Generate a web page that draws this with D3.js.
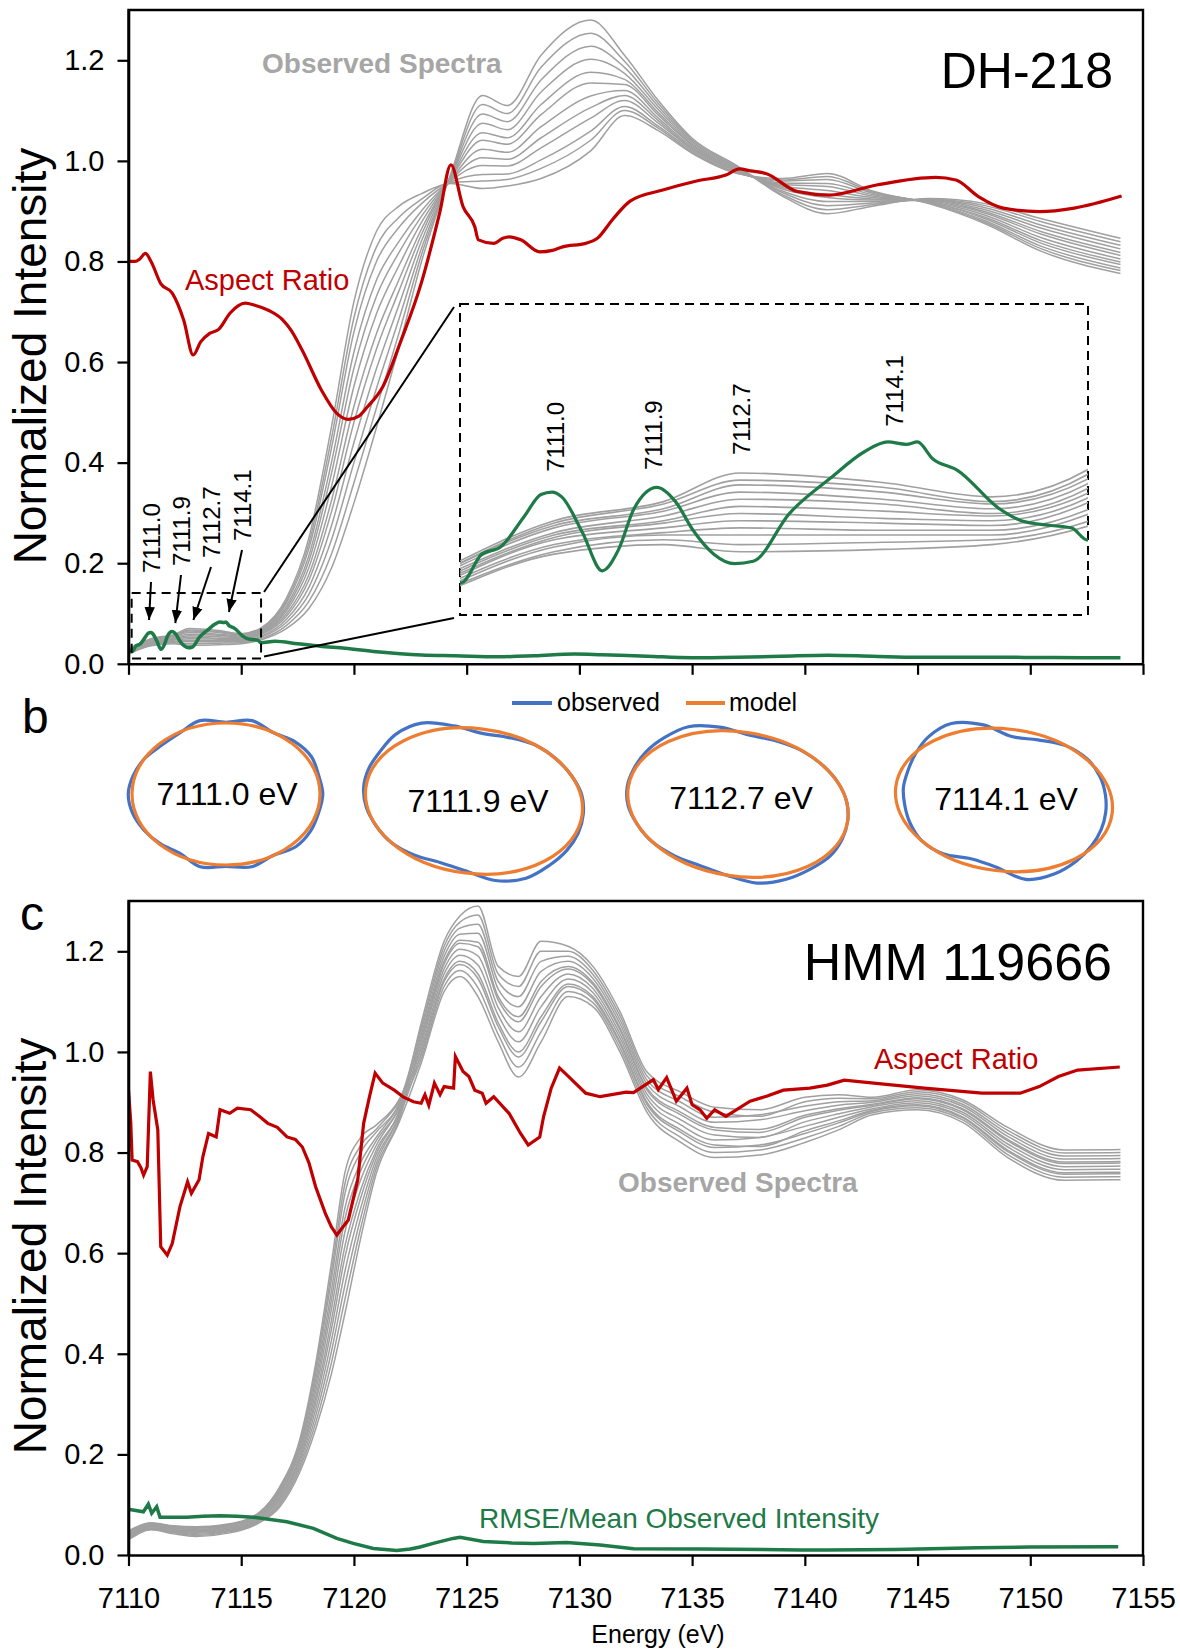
<!DOCTYPE html>
<html>
<head>
<meta charset="utf-8">
<script src="https://cdn.jsdelivr.net/npm/d3@7"></script>
<style>
  body { margin: 0; background: #fff; }
  svg { display: block; font-family: "Liberation Sans", Arial, Helvetica, sans-serif; }
</style>
</head>
<body>
<div id="chart"></div>
<script>
// ---------- data ----------
var tickE = [7110, 7115, 7120, 7125, 7130, 7135, 7140, 7145, 7150, 7155];
var tickV = [0, 0.2, 0.4, 0.6, 0.8, 1.0, 1.2];

// panel a (DH-218): 12 observed spectra, one row per energy
var energyTop = [7110, 7111, 7112, 7112.7, 7114, 7115, 7115.9, 7117, 7118, 7119, 7120, 7121, 7122, 7123, 7124.3,
                 7125.7, 7126.8, 7128.3, 7130.5, 7132, 7133.5, 7135, 7137, 7139, 7141, 7143, 7145.5, 7148, 7150.5, 7154];
var greyTopRows = [
  [0.030,0.029,0.029,0.028,0.027,0.026,0.025,0.024,0.023,0.022,0.021,0.020],
  [0.050,0.049,0.048,0.047,0.045,0.044,0.043,0.042,0.040,0.039,0.037,0.036],
  [0.058,0.057,0.055,0.054,0.052,0.050,0.049,0.047,0.045,0.044,0.042,0.040],
  [0.070,0.067,0.065,0.062,0.059,0.056,0.053,0.050,0.047,0.044,0.040,0.037],
  [0.066,0.064,0.062,0.059,0.057,0.054,0.051,0.049,0.046,0.044,0.041,0.038],
  [0.060,0.058,0.057,0.055,0.053,0.052,0.050,0.048,0.046,0.044,0.042,0.040],
  [0.072,0.070,0.068,0.066,0.064,0.062,0.060,0.058,0.055,0.053,0.050,0.048],
  [0.130,0.125,0.121,0.115,0.110,0.105,0.099,0.094,0.088,0.082,0.076,0.070],
  [0.250,0.239,0.229,0.215,0.204,0.191,0.177,0.166,0.152,0.138,0.124,0.110],
  [0.470,0.448,0.428,0.400,0.378,0.352,0.324,0.302,0.274,0.246,0.218,0.190],
  [0.720,0.688,0.660,0.620,0.588,0.552,0.512,0.480,0.440,0.400,0.360,0.320],
  [0.860,0.829,0.800,0.763,0.731,0.696,0.657,0.626,0.587,0.548,0.509,0.470],
  [0.910,0.888,0.868,0.840,0.818,0.792,0.764,0.742,0.714,0.686,0.658,0.630],
  [0.935,0.924,0.915,0.901,0.890,0.878,0.865,0.854,0.841,0.827,0.814,0.800],
  [0.955,0.957,0.958,0.960,0.962,0.963,0.965,0.967,0.969,0.971,0.973,0.975],
  [0.945,0.960,0.973,0.991,1.006,1.023,1.041,1.056,1.075,1.093,1.112,1.130],
  [0.950,0.963,0.974,0.990,1.003,1.017,1.033,1.046,1.062,1.078,1.094,1.110],
  [0.965,0.985,1.002,1.026,1.046,1.068,1.092,1.112,1.137,1.161,1.186,1.210],
  [1.020,1.041,1.059,1.085,1.106,1.129,1.155,1.176,1.202,1.228,1.254,1.280],
  [1.090,1.100,1.108,1.120,1.130,1.140,1.152,1.162,1.174,1.186,1.198,1.210],
  [1.060,1.065,1.069,1.075,1.080,1.085,1.091,1.096,1.102,1.108,1.114,1.120],
  [1.015,1.017,1.020,1.023,1.025,1.028,1.031,1.033,1.036,1.039,1.042,1.045],
  [0.975,0.976,0.977,0.979,0.980,0.981,0.983,0.984,0.986,0.987,0.989,0.990],
  [0.965,0.962,0.960,0.956,0.953,0.950,0.947,0.944,0.940,0.937,0.933,0.930],
  [0.975,0.969,0.963,0.955,0.949,0.941,0.933,0.927,0.919,0.911,0.903,0.895],
  [0.940,0.938,0.936,0.933,0.930,0.927,0.924,0.922,0.919,0.916,0.913,0.910],
  [0.915,0.916,0.917,0.918,0.918,0.919,0.920,0.921,0.922,0.923,0.924,0.925],
  [0.875,0.878,0.881,0.885,0.888,0.892,0.896,0.899,0.903,0.907,0.911,0.915],
  [0.820,0.825,0.830,0.836,0.841,0.847,0.854,0.859,0.866,0.872,0.879,0.885],
  [0.776,0.782,0.787,0.794,0.799,0.805,0.812,0.818,0.825,0.832,0.839,0.846]
];
var aspectTop = [
  [7110.0,0.800],[7110.3,0.800],[7110.5,0.805],[7110.75,0.816],[7111.0,0.800],[7111.43,0.756],[7111.94,0.737],
  [7112.45,0.683],[7112.87,0.614],[7113.2,0.640],[7113.6,0.657],[7114.0,0.665],[7114.5,0.697],[7115.17,0.717],
  [7115.6,0.713],[7116.2,0.703],[7116.86,0.683],[7117.2,0.664],[7117.7,0.624],[7118.56,0.544],[7119.24,0.498],
  [7119.75,0.486],[7120.2,0.492],[7120.6,0.511],[7121.28,0.551],[7122.1,0.644],[7122.98,0.756],[7123.8,0.896],
  [7124.3,0.992],[7124.84,0.909],[7125.36,0.869],[7125.52,0.843],[7126.2,0.836],[7126.6,0.846],[7126.88,0.849],
  [7127.4,0.843],[7128.24,0.819],[7128.8,0.822],[7129.26,0.829],[7130.28,0.836],[7130.77,0.845],[7131.5,0.885],
  [7132.25,0.920],[7133.7,0.942],[7135.2,0.960],[7136.5,0.972],[7137.1,0.984],[7137.6,0.980],[7138.27,0.975],
  [7139.67,0.939],[7141.08,0.932],[7143.18,0.952],[7145.8,0.967],[7146.7,0.962],[7147.7,0.929],[7148.8,0.906],
  [7150.4,0.899],[7151.95,0.906],[7154.05,0.930]
];
var rmseTop = [
  [7110.0,0.029],[7110.15,0.024],[7110.34,0.036],[7110.51,0.039],[7110.73,0.052],[7110.88,0.061],[7110.98,0.062],
  [7111.07,0.060],[7111.26,0.045],[7111.44,0.029],[7111.59,0.038],[7111.73,0.055],[7111.94,0.064],[7112.11,0.058],
  [7112.27,0.046],[7112.46,0.036],[7112.65,0.032],[7112.82,0.033],[7113.15,0.053],[7113.53,0.068],[7113.84,0.079],
  [7114.05,0.083],[7114.22,0.082],[7114.32,0.083],[7114.46,0.076],[7114.69,0.071],[7115.07,0.055],[7115.27,0.050],
  [7115.54,0.048],[7115.73,0.047],[7115.87,0.042],[7116.5,0.045],[7117.5,0.040],[7118.5,0.035],[7119.6,0.031],
  [7121.0,0.024],[7123.0,0.0175],[7124.5,0.016],[7126.4,0.014],[7128.0,0.016],[7129.8,0.0195],[7131.0,0.018],
  [7133.0,0.015],[7135.0,0.012],[7137.0,0.013],[7139.0,0.015],[7141.0,0.017],[7143.0,0.015],[7145.0,0.013],
  [7148.0,0.013],[7151.0,0.0125],[7154.0,0.012]
];
var peakE = [7111.0, 7111.9, 7112.7, 7114.1];
var peakText = ["7111.0", "7111.9", "7112.7", "7114.1"];
var arrowTipV = [0.087, 0.081, 0.087, 0.103];
var insetLabelV = [0.0705, 0.0712, 0.0775, 0.0894];

// panel b: model ellipses and observed outlines (radius ratio at each angle)
var shapeText = ["7111.0 eV", "7111.9 eV", "7112.7 eV", "7114.1 eV"];
var modelRx = [94, 109, 111, 109];
var modelRy = [71, 72.5, 72, 71];
var modelTilt = [0, 7, 9, 7];
var blueAngles = [0,15,30,45,60,75,90,105,120,135,150,165,180,195,210,225,240,255,270,285,300,315,330,345];
var blueR = [
  [1.03,1.02,1.04,1.05,1.00,1.06,1.02,1.06,0.97,0.99,1.01,1.03,1.04,1.02,1.00,0.97,0.99,1.07,1.01,1.07,1.00,1.04,1.05,1.02],
  [1.01,1.02,1.04,1.07,1.12,1.09,0.97,0.93,0.97,1.00,1.00,1.01,1.02,1.03,1.05,1.11,1.13,1.03,0.94,0.96,1.00,1.00,1.00,1.01],
  [1.00,1.01,1.03,1.04,1.07,1.08,1.00,0.96,0.98,1.00,1.00,1.01,1.01,1.01,1.03,1.06,1.10,1.05,0.97,0.98,1.00,1.00,1.00,1.00],
  [0.94,0.95,0.98,1.03,1.09,1.11,0.95,0.91,0.99,1.00,0.96,0.93,0.93,0.94,0.99,1.07,1.13,1.05,0.90,0.93,1.00,1.01,0.98,0.95]
];

// panel c (HMM 119666)
var energyBot = [7110, 7111, 7112, 7113, 7114.5, 7115.8, 7116.7, 7117.6, 7118.3, 7119, 7119.6, 7120.3, 7121, 7122,
                 7123, 7124, 7124.7, 7125.5, 7126.4, 7127.3, 7128.3, 7129.5, 7130.6, 7131.8, 7133, 7134.5, 7136,
                 7138, 7140, 7141.5, 7143, 7145, 7147, 7149, 7151.5, 7154];
var greyBotRows = [
  [0.048,0.047,0.045,0.044,0.042,0.040,0.039,0.037,0.035,0.034,0.032,0.030],
  [0.064,0.063,0.062,0.061,0.059,0.058,0.057,0.056,0.054,0.053,0.051,0.050],
  [0.058,0.057,0.056,0.054,0.053,0.051,0.050,0.048,0.047,0.045,0.044,0.042],
  [0.056,0.054,0.053,0.051,0.050,0.048,0.046,0.045,0.043,0.041,0.039,0.037],
  [0.062,0.061,0.059,0.058,0.056,0.054,0.053,0.051,0.049,0.048,0.046,0.044],
  [0.085,0.083,0.082,0.080,0.078,0.076,0.074,0.072,0.070,0.068,0.066,0.064],
  [0.135,0.132,0.129,0.125,0.122,0.118,0.114,0.111,0.107,0.103,0.099,0.095],
  [0.230,0.225,0.220,0.214,0.209,0.203,0.196,0.191,0.185,0.178,0.172,0.165],
  [0.380,0.370,0.360,0.348,0.337,0.325,0.312,0.302,0.289,0.276,0.263,0.250],
  [0.580,0.562,0.547,0.525,0.507,0.488,0.466,0.448,0.426,0.404,0.382,0.360],
  [0.760,0.738,0.718,0.690,0.668,0.642,0.614,0.592,0.564,0.536,0.508,0.480],
  [0.830,0.814,0.800,0.780,0.764,0.746,0.726,0.710,0.690,0.670,0.650,0.630],
  [0.855,0.847,0.841,0.831,0.824,0.815,0.806,0.798,0.789,0.779,0.770,0.760],
  [0.905,0.901,0.898,0.894,0.890,0.886,0.882,0.878,0.874,0.869,0.865,0.860],
  [1.024,0.996,1.052,1.008,1.036,0.988,1.060,1.016,1.044,1.000,1.028,0.980],
  [1.175,1.140,1.210,1.155,1.190,1.130,1.220,1.165,1.200,1.145,1.180,1.120],
  [1.216,1.174,1.258,1.192,1.234,1.162,1.270,1.204,1.246,1.180,1.222,1.150],
  [1.209,1.146,1.272,1.173,1.236,1.128,1.290,1.191,1.254,1.155,1.218,1.110],
  [1.103,1.050,1.155,1.073,1.125,1.035,1.170,1.088,1.140,1.058,1.110,1.020],
  [1.060,0.990,1.130,1.020,1.090,0.970,1.150,1.040,1.110,1.000,1.070,0.950],
  [1.130,1.060,1.200,1.090,1.160,1.040,1.220,1.110,1.180,1.070,1.140,1.020],
  [1.165,1.130,1.200,1.145,1.180,1.120,1.210,1.155,1.190,1.135,1.170,1.110],
  [1.134,1.106,1.162,1.118,1.146,1.098,1.170,1.126,1.154,1.110,1.138,1.090],
  [1.044,1.016,1.072,1.028,1.056,1.008,1.080,1.036,1.064,1.020,1.048,1.000],
  [0.924,0.896,0.952,0.908,0.936,0.888,0.960,0.916,0.944,0.900,0.928,0.880],
  [0.875,0.840,0.910,0.855,0.890,0.830,0.920,0.865,0.900,0.845,0.880,0.820],
  [0.845,0.810,0.880,0.825,0.860,0.800,0.890,0.835,0.870,0.815,0.850,0.790],
  [0.840,0.815,0.872,0.830,0.865,0.805,0.885,0.830,0.875,0.812,0.846,0.795],
  [0.870,0.838,0.901,0.852,0.883,0.829,0.910,0.861,0.892,0.843,0.874,0.820],
  [0.884,0.859,0.908,0.870,0.894,0.852,0.915,0.877,0.901,0.863,0.887,0.845],
  [0.894,0.882,0.907,0.887,0.900,0.879,0.910,0.891,0.903,0.884,0.896,0.875],
  [0.907,0.893,0.921,0.899,0.913,0.889,0.925,0.903,0.917,0.895,0.909,0.885],
  [0.885,0.869,0.901,0.876,0.892,0.865,0.905,0.880,0.896,0.871,0.887,0.860],
  [0.823,0.802,0.844,0.811,0.832,0.796,0.850,0.817,0.838,0.805,0.826,0.790],
  [0.778,0.757,0.799,0.766,0.787,0.751,0.805,0.772,0.793,0.760,0.781,0.745],
  [0.779,0.758,0.800,0.767,0.788,0.752,0.806,0.773,0.794,0.761,0.782,0.746]
];
var aspectBot = [
  [7110.0,0.924],[7110.1,0.860],[7110.16,0.785],[7110.4,0.782],[7110.55,0.770],[7110.67,0.755],[7110.83,0.772],
  [7110.97,0.961],[7111.09,0.905],[7111.3,0.845],[7111.43,0.613],[7111.72,0.596],[7111.94,0.619],[7112.28,0.692],
  [7112.62,0.742],[7112.79,0.719],[7113.13,0.746],[7113.3,0.792],[7113.55,0.838],[7113.89,0.831],[7114.06,0.885],
  [7114.49,0.878],[7114.83,0.888],[7115.42,0.885],[7115.8,0.872],[7116.18,0.858],[7116.6,0.850],[7117.03,0.831],
  [7117.4,0.826],[7117.71,0.811],[7118.0,0.780],[7118.3,0.732],[7118.73,0.679],[7119.0,0.652],[7119.24,0.636],
  [7119.75,0.666],[7120.17,0.746],[7120.43,0.858],[7120.69,0.911],[7120.94,0.958],[7121.28,0.938],[7121.79,0.924],
  [7122.2,0.910],[7122.64,0.901],[7122.98,0.898],[7123.15,0.915],[7123.32,0.894],[7123.57,0.938],[7123.82,0.915],
  [7124.0,0.931],[7124.42,0.928],[7124.5,0.991],[7124.84,0.961],[7125.1,0.951],[7125.36,0.924],[7125.69,0.918],
  [7125.86,0.898],[7126.2,0.911],[7126.88,0.878],[7127.39,0.838],[7127.73,0.815],[7128.24,0.831],[7128.41,0.871],
  [7128.75,0.928],[7129.12,0.968],[7129.43,0.955],[7130.28,0.918],[7130.92,0.911],[7132.07,0.920],[7132.4,0.919],
  [7133.28,0.945],[7133.5,0.925],[7133.87,0.949],[7134.3,0.902],[7134.77,0.928],[7135.0,0.895],[7135.35,0.885],
  [7135.65,0.868],[7136.0,0.885],[7136.5,0.872],[7137.57,0.902],[7138.3,0.912],[7139.05,0.924],[7140.22,0.928],
  [7141.0,0.934],[7141.75,0.944],[7143.5,0.936],[7145.3,0.928],[7147.86,0.918],[7149.55,0.918],[7150.4,0.931],
  [7151.25,0.951],[7152.1,0.964],[7153.97,0.970]
];
var rmseBot = [
  [7110.0,0.091],[7110.66,0.086],[7110.88,0.101],[7111.03,0.083],[7111.25,0.096],[7111.4,0.075],[7112.58,0.075],
  [7113.3,0.077],[7114.06,0.078],[7114.8,0.077],[7115.54,0.075],[7117.02,0.066],[7118.2,0.053],[7119.24,0.033],
  [7119.97,0.023],[7120.86,0.013],[7121.9,0.009],[7122.5,0.012],[7122.93,0.016],[7123.6,0.024],[7124.4,0.033],
  [7124.7,0.035],[7125.74,0.027],[7127.0,0.024],[7127.96,0.023],[7129.44,0.025],[7130.92,0.020],[7132.4,0.0125],
  [7135.35,0.012],[7139.8,0.010],[7141.0,0.010],[7144.0,0.011],[7147.7,0.0145],[7150.0,0.016],[7153.9,0.0165]
];

// ---------- layout ----------
var W = 1180, H = 1652;
var left = 128.5, right = 1143;
var GREY = "#a0a0a0", RED = "#c00000", GREEN = "#1e7a46", BLUE = "#4472c4", ORANGE = "#ed7d31";

var svg = d3.select("#chart").append("svg").attr("width", W).attr("height", H);
var defs = svg.append("defs");

var xTop = d3.scaleLinear().domain([7110, 7155]).range([left, right]);
var yTop = d3.scaleLinear().domain([0, 1.3]).range([663.8, 10]);
var xBot = d3.scaleLinear().domain([7110, 7155]).range([left, right]);
var yBot = d3.scaleLinear().domain([0, 1.3]).range([1555, 901]);
// magnified window of panel a
var xIn = d3.scaleLinear().domain([7110.14, 7115.88]).range([460, 1088]);
var yIn = d3.scaleLinear().domain([0.0105, 0.1408]).range([615, 304]);

function lineOf(x, y, curve) {
    return d3.line().x(function (d) { return x(d[0]); }).y(function (d) { return y(d[1]); }).curve(curve);
}
function seriesFrom(energy, rows) {
    var cols = d3.transpose(rows);
    return cols.map(function (c) { return c.map(function (v, k) { return [energy[k], v]; }); });
}
var greyTop = seriesFrom(energyTop, greyTopRows);
var greyBot = seriesFrom(energyBot, greyBotRows);

defs.append("clipPath").attr("id", "clipTop").append("rect")
    .attr("x", left).attr("y", 10).attr("width", right - left).attr("height", 663.8 - 10);
defs.append("clipPath").attr("id", "clipBot").append("rect")
    .attr("x", left).attr("y", 901).attr("width", right - left).attr("height", 1555 - 901);
defs.append("clipPath").attr("id", "clipIn").append("rect")
    .attr("x", 460).attr("y", 304).attr("width", 628).attr("height", 311);
defs.append("marker").attr("id", "head").attr("viewBox", "0 0 10 10")
    .attr("refX", 10).attr("refY", 5).attr("markerWidth", 13).attr("markerHeight", 13)
    .attr("markerUnits", "userSpaceOnUse").attr("orient", "auto")
    .append("path").attr("d", "M0,1 L10,5 L0,9 Z").attr("fill", "#000");

function drawAxes(y0, yScale, xScale, labels) {
    var ax = svg.append("g").attr("transform", "translate(0," + y0 + ")")
        .call(d3.axisBottom(xScale).tickValues(tickE).tickSize(11).tickSizeOuter(0).tickPadding(21)
            .tickFormat(labels ? d3.format("d") : ""));
    var ay = svg.append("g").attr("transform", "translate(" + left + ",0)")
        .call(d3.axisLeft(yScale).tickValues(tickV).tickSize(11).tickSizeOuter(0).tickPadding(13)
            .tickFormat(d3.format(".1f")));
    [ax, ay].forEach(function (a) {
        a.attr("font-family", null).attr("font-size", 29);
        a.selectAll("text").attr("fill", "#000");
        a.selectAll("line").attr("stroke", "#000").attr("stroke-width", 2.2);
        a.select(".domain").attr("stroke", "#000").attr("stroke-width", 2.6);
    });
}

// ---------- panel a ----------
var gTop = svg.append("g").attr("clip-path", "url(#clipTop)");
gTop.selectAll(".grey").data(greyTop).enter().append("path")
    .attr("d", lineOf(xTop, yTop, d3.curveMonotoneX))
    .attr("fill", "none").attr("stroke", GREY).attr("stroke-width", 1.5);
gTop.append("path").datum(rmseTop).attr("d", lineOf(xTop, yTop, d3.curveMonotoneX))
    .attr("fill", "none").attr("stroke", GREEN).attr("stroke-width", 3.5);
gTop.append("path").datum(aspectTop).attr("d", lineOf(xTop, yTop, d3.curveMonotoneX))
    .attr("fill", "none").attr("stroke", RED).attr("stroke-width", 3.2);

svg.append("path").attr("d", "M" + left + ",663.8V10H" + right + "V663.8")
    .attr("fill", "none").attr("stroke", "#000").attr("stroke-width", 2.4);
drawAxes(663.8, yTop, xTop, false);

// zoom window and its magnified copy
var sx0 = xTop(7110.14), sx1 = xTop(7115.88), sy0 = yTop(0.1408), sy1 = yTop(0.0105);
svg.append("rect").attr("x", sx0).attr("y", sy0).attr("width", sx1 - sx0).attr("height", sy1 - sy0)
    .attr("fill", "none").attr("stroke", "#000").attr("stroke-width", 2).attr("stroke-dasharray", "9,6");
svg.append("rect").attr("x", 460).attr("y", 304).attr("width", 628).attr("height", 311)
    .attr("fill", "none").attr("stroke", "#000").attr("stroke-width", 2).attr("stroke-dasharray", "9,6");
svg.append("line").attr("x1", sx1 + 3).attr("y1", sy0 - 1).attr("x2", 454).attr("y2", 307)
    .attr("stroke", "#000").attr("stroke-width", 2);
svg.append("line").attr("x1", sx1 + 3).attr("y1", sy1 - 2).attr("x2", 454).attr("y2", 618)
    .attr("stroke", "#000").attr("stroke-width", 2);

var gIn = svg.append("g").attr("clip-path", "url(#clipIn)");
gIn.selectAll(".grey").data(greyTop).enter().append("path")
    .attr("d", lineOf(xIn, yIn, d3.curveMonotoneX))
    .attr("fill", "none").attr("stroke", GREY).attr("stroke-width", 1.6);
gIn.append("path").datum(rmseTop).attr("d", lineOf(xIn, yIn, d3.curveMonotoneX))
    .attr("fill", "none").attr("stroke", GREEN).attr("stroke-width", 3.2);

svg.selectAll(".inLabel").data(peakE).enter().append("text")
    .attr("transform", function (d, i) { return "translate(" + (xIn(d) + 1) + "," + yIn(insetLabelV[i]) + ") rotate(-90)"; })
    .attr("dy", "0.36em").attr("font-size", 24).text(function (d, i) { return peakText[i]; });

// peak labels with arrows in the main plot
var labelX = [151, 181, 211, 242], labelY = [573, 566, 558, 541];
var tipDx = [-2, 4, 4, 8];
svg.selectAll(".pkLabel").data(peakE).enter().append("text")
    .attr("transform", function (d, i) { return "translate(" + labelX[i] + "," + labelY[i] + ") rotate(-90)"; })
    .attr("dy", "0.36em").attr("font-size", 24).text(function (d, i) { return peakText[i]; });
svg.selectAll(".pkArrow").data(peakE).enter().append("line")
    .attr("x1", function (d, i) { return labelX[i]; })
    .attr("y1", function (d, i) { return labelY[i] + 9; })
    .attr("x2", function (d, i) { return xTop(d) + tipDx[i]; })
    .attr("y2", function (d, i) { return yTop(arrowTipV[i]); })
    .attr("stroke", "#000").attr("stroke-width", 2).attr("marker-end", "url(#head)");

svg.append("text").attr("x", 262).attr("y", 73).attr("font-size", 28).attr("font-weight", "bold")
    .attr("fill", "#a6a6a6").text("Observed Spectra");
svg.append("text").attr("x", 185).attr("y", 290).attr("font-size", 29).attr("fill", RED).text("Aspect Ratio");
svg.append("text").attr("x", 1113).attr("y", 88).attr("font-size", 50).attr("text-anchor", "end").text("DH-218");
svg.append("text").attr("transform", "translate(45.5,356) rotate(-90)").attr("text-anchor", "middle")
    .attr("font-size", 46).text("Normalized Intensity");

// ---------- panel b ----------
svg.append("text").attr("x", 22).attr("y", 733).attr("font-size", 48).text("b");
var legend = svg.append("g");
legend.append("line").attr("x1", 512).attr("x2", 552).attr("y1", 703).attr("y2", 703)
    .attr("stroke", BLUE).attr("stroke-width", 4);
legend.append("text").attr("x", 557).attr("y", 711).attr("font-size", 25).text("observed");
legend.append("line").attr("x1", 686).attr("x2", 725).attr("y1", 703).attr("y2", 703)
    .attr("stroke", ORANGE).attr("stroke-width", 4);
legend.append("text").attr("x", 729).attr("y", 711).attr("font-size", 25).text("model");

var shapeCx = [226, 474, 738, 1004], shapeCy = [794, 801, 804, 800];
var labelDx = [1, 4, 3, 2], labelDy = [11, 11, 5, 10];
shapeText.forEach(function (label, i) {
    var g = svg.append("g")
        .attr("transform", "translate(" + shapeCx[i] + "," + shapeCy[i] + ") rotate(" + modelTilt[i] + ")");
    var pts = blueAngles.map(function (a, k) { return [a, blueR[i][k]]; });
    var outline = d3.line()
        .x(function (d) { return modelRx[i] * d[1] * Math.cos(d[0] * Math.PI / 180); })
        .y(function (d) { return modelRy[i] * d[1] * Math.sin(d[0] * Math.PI / 180); })
        .curve(d3.curveCatmullRomClosed.alpha(0.5));
    g.append("path").datum(pts).attr("d", outline)
        .attr("fill", "none").attr("stroke", BLUE).attr("stroke-width", 3.2);
    g.append("ellipse").attr("rx", modelRx[i]).attr("ry", modelRy[i])
        .attr("fill", "none").attr("stroke", ORANGE).attr("stroke-width", 3.2);
    svg.append("text").attr("x", shapeCx[i] + labelDx[i]).attr("y", shapeCy[i] + labelDy[i])
        .attr("text-anchor", "middle").attr("font-size", 32).text(label);
});

// ---------- panel c ----------
svg.append("text").attr("x", 20).attr("y", 930).attr("font-size", 48).text("c");
var gBot = svg.append("g").attr("clip-path", "url(#clipBot)");
gBot.selectAll(".grey").data(greyBot).enter().append("path")
    .attr("d", lineOf(xBot, yBot, d3.curveMonotoneX))
    .attr("fill", "none").attr("stroke", GREY).attr("stroke-width", 1.5);
gBot.append("path").datum(rmseBot).attr("d", lineOf(xBot, yBot, d3.curveLinear))
    .attr("fill", "none").attr("stroke", GREEN).attr("stroke-width", 3.5);
gBot.append("path").datum(aspectBot).attr("d", lineOf(xBot, yBot, d3.curveLinear))
    .attr("fill", "none").attr("stroke", RED).attr("stroke-width", 3.2);

svg.append("path").attr("d", "M" + left + ",1555V901H" + right + "V1555")
    .attr("fill", "none").attr("stroke", "#000").attr("stroke-width", 2.4);
drawAxes(1555, yBot, xBot, true);

svg.append("text").attr("x", 1112).attr("y", 980).attr("font-size", 52).attr("text-anchor", "end").text("HMM 119666");
svg.append("text").attr("x", 874).attr("y", 1069).attr("font-size", 29).attr("fill", RED).text("Aspect Ratio");
svg.append("text").attr("x", 618).attr("y", 1192).attr("font-size", 28).attr("font-weight", "bold")
    .attr("fill", "#a6a6a6").text("Observed Spectra");
svg.append("text").attr("x", 479).attr("y", 1528).attr("font-size", 28).attr("fill", GREEN)
    .text("RMSE/Mean Observed Intensity");
svg.append("text").attr("transform", "translate(45.5,1246) rotate(-90)").attr("text-anchor", "middle")
    .attr("font-size", 46).text("Normalized Intensity");
svg.append("text").attr("x", 658).attr("y", 1643).attr("text-anchor", "middle").attr("font-size", 25)
    .text("Energy (eV)");
</script>
</body>
</html>
